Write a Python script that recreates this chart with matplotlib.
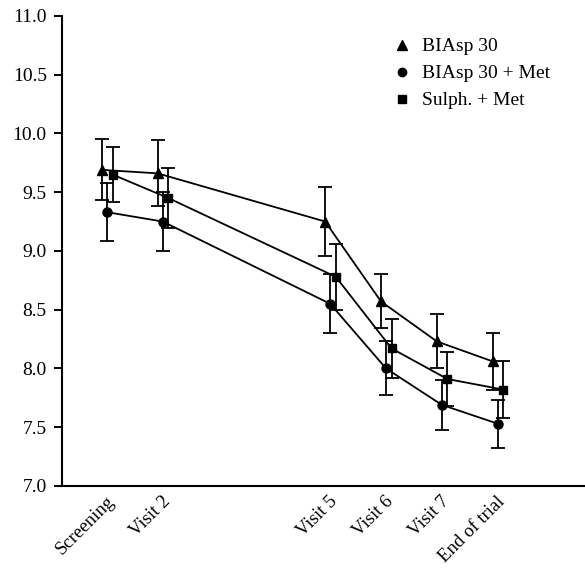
from matplotlib import pyplot as plt
from matplotlib.lines import Line2D
from matplotlib.transforms import ScaledTranslation

# --- data ---
visits = ['Screening', 'Visit 2', 'Visit 5', 'Visit 6', 'Visit 7', 'End of trial']
visit_pos = [0, 1, 4, 5, 6, 7]

biasp = [9.69, 9.66, 9.25, 8.57, 8.23, 8.06]
biasp_err = [0.26, 0.28, 0.29, 0.23, 0.23, 0.24]

biasp_met = [9.33, 9.25, 8.55, 8.00, 7.69, 7.53]
biasp_met_err = [0.245, 0.25, 0.25, 0.23, 0.21, 0.205]

sulph_met = [9.65, 9.45, 8.78, 8.17, 7.91, 7.82]
sulph_met_err = [0.235, 0.255, 0.28, 0.25, 0.23, 0.24]

# --- drawing ---
plt.rcParams['font.family'] = ['Liberation Serif', 'DejaVu Serif']
plt.rcParams['font.size'] = 14

fig = plt.figure(figsize=(5.85, 5.69), dpi=100)
ax = fig.add_axes([0.106, 0.146, 0.894, 0.826])

series = [
    (biasp, biasp_err, -0.09, '^', 7.5, 'BIAsp 30'),
    (biasp_met, biasp_met_err, 0.0, 'o', 6.5, 'BIAsp 30 + Met'),
    (sulph_met, sulph_met_err, 0.10, 's', 6.0, 'Sulph. + Met'),
]
handles = []
for vals, errs, dx, mk, ms, lab in series:
    xs = [p + dx for p in visit_pos]
    ax.errorbar(xs, vals, yerr=errs, color='k', marker=mk, markersize=ms,
                linewidth=1.3, elinewidth=1.3, capsize=5, capthick=1.3)
    handles.append(Line2D([], [], color='k', marker=mk, markersize=ms - 0.5,
                          linestyle='none', label=lab))

ax.set_ylim(7.0, 11.0)
ax.set_xlim(-0.806, 8.566)
ax.set_yticks([7.0, 7.5, 8.0, 8.5, 9.0, 9.5, 10.0, 10.5, 11.0])
ax.set_yticklabels([f'{v:.1f}' for v in ax.get_yticks()])
ax.set_xticks(visit_pos)
ax.set_xticklabels(visits, rotation=45, ha='right', fontsize=13.5)
ax.tick_params(axis='x', length=0, pad=5)
ax.tick_params(axis='y', length=6, width=1.4, pad=5)
shift = ScaledTranslation(11 / 100, 0, fig.dpi_scale_trans)
for lbl in ax.get_xticklabels():
    lbl.set_transform(lbl.get_transform() + shift)

for side in ['top', 'right']:
    ax.spines[side].set_visible(False)
for side in ['left', 'bottom']:
    ax.spines[side].set_linewidth(1.5)

ax.legend(handles=handles, frameon=False, loc='upper left',
          bbox_to_anchor=(0.621, 0.97), handlelength=0.8, handletextpad=0.6,
          labelspacing=0.48, borderaxespad=0)

fig.savefig('out.png', dpi=100)
